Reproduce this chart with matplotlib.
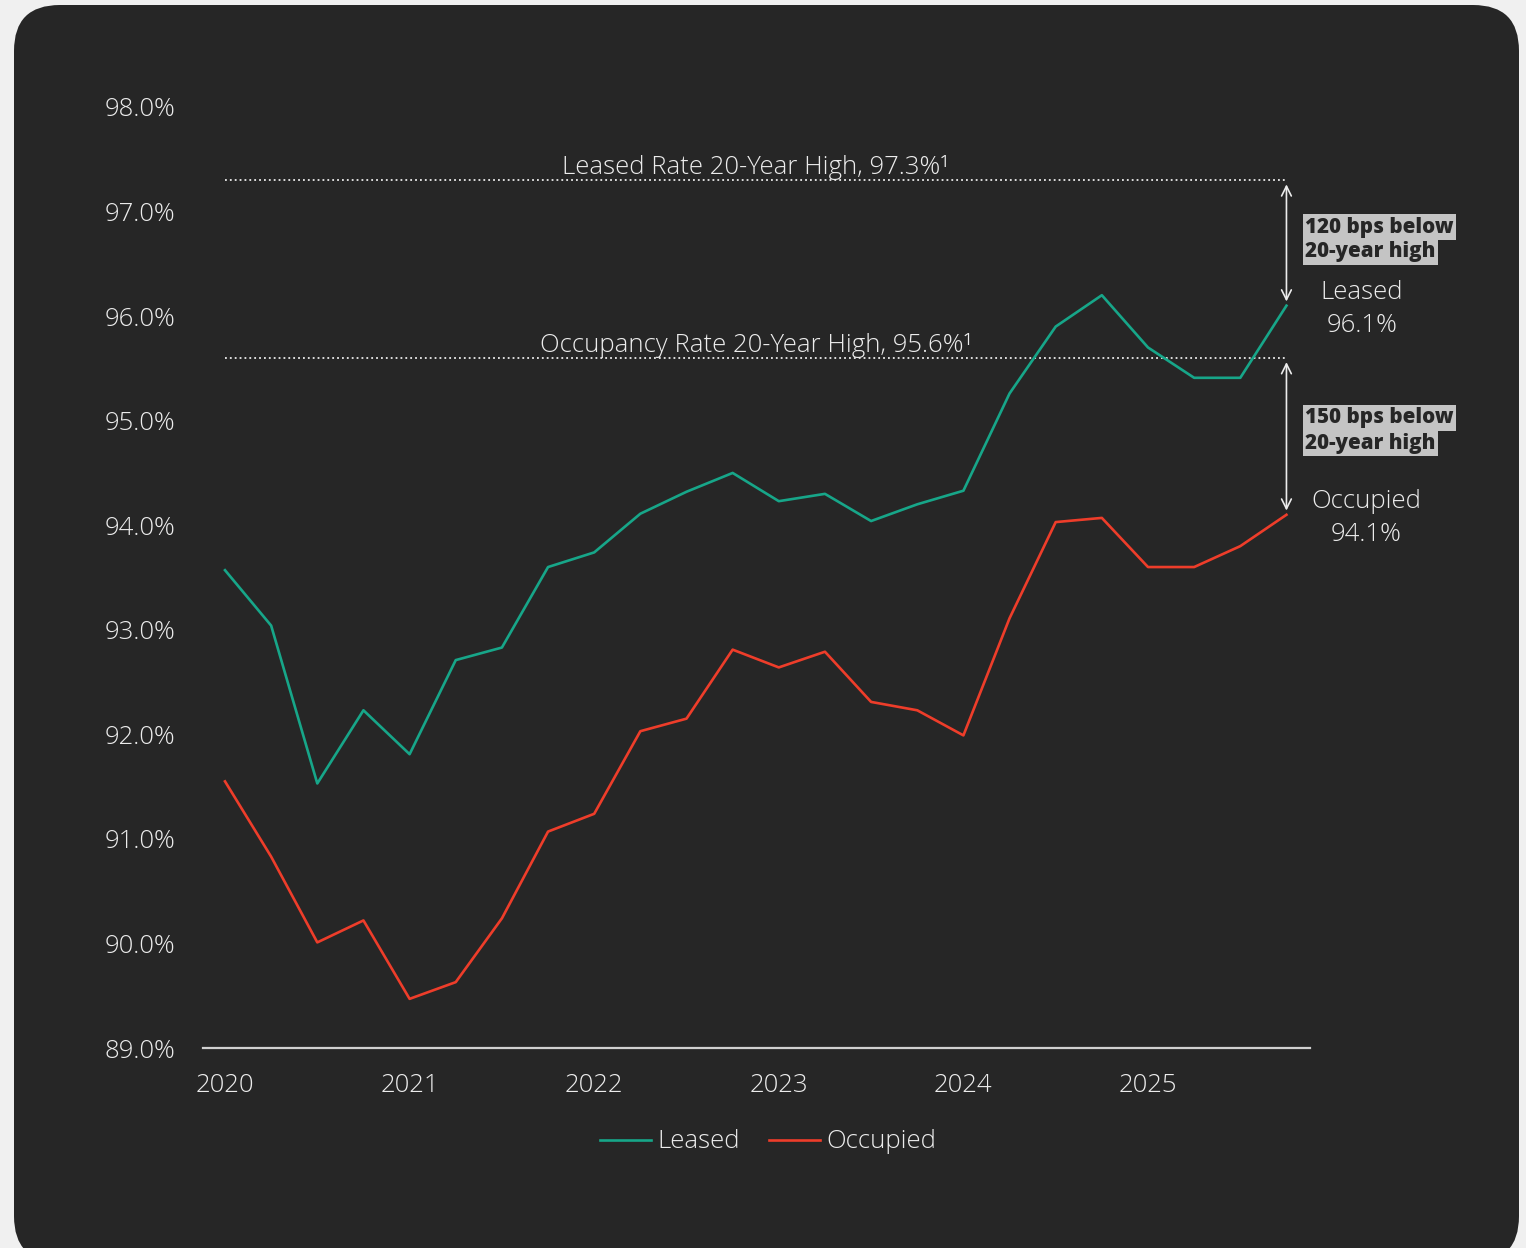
import matplotlib
matplotlib.use("Agg")
import matplotlib.pyplot as plt
from matplotlib.patches import FancyBboxPatch
from matplotlib.lines import Line2D

# Quarterly rates, 2020 Q1 through 2025 Q4
quarters = [2020 + 0.25 * i for i in range(24)]
leased = [93.57, 93.04, 91.53, 92.23, 91.81, 92.71, 92.83, 93.60, 93.74, 94.11,
          94.32, 94.50, 94.23, 94.30, 94.04, 94.20, 94.33, 95.26, 95.90, 96.20,
          95.70, 95.41, 95.41, 96.10]
occupied = [91.55, 90.83, 90.01, 90.22, 89.47, 89.63, 90.24, 91.07, 91.24, 92.03,
            92.15, 92.81, 92.64, 92.79, 92.31, 92.23, 91.99, 93.11, 94.03, 94.07,
            93.60, 93.60, 93.80, 94.10]
leased_high = 97.3
occupied_high = 95.6
year_ticks = [2020, 2021, 2022, 2023, 2024, 2025]
pct_ticks = [89, 90, 91, 92, 93, 94, 95, 96, 97, 98]
gap_labels = [("120 bps below", "20-year high"), ("150 bps below", "20-year high")]

TEAL = "#17a689"
RED = "#ee3d2a"
PANEL = "#262626"
TEXT = "#ececec"
FONT = ["Open Sans", "DejaVu Sans"]

plt.rcParams["font.family"] = FONT
plt.rcParams["font.weight"] = "light"

W, H = 1526, 1248
fig = plt.figure(figsize=(W / 100, H / 100), dpi=100, facecolor="#f0f0f0")

# rounded dark panel behind everything
panel = FancyBboxPatch((14 / W, (H - 1262) / H), (1519 - 14) / W, (1262 - 5) / H,
                       boxstyle="round,pad=0,rounding_size=0.03",
                       transform=fig.transFigure, facecolor=PANEL, edgecolor="none",
                       mutation_aspect=W / H, zorder=-10)
fig.patches.append(panel)

ax = fig.add_axes([203 / W, 1 - 1048 / H, (1310 - 203) / W, (1048 - 107) / H])
ax.set_facecolor("none")
ax.set_zorder(1)
x0 = 2020 - 22 / 184.6
x1 = 2020 + (1310 - 225) / 184.6
ax.set_xlim(x0, x1)
ax.set_ylim(89, 98)

ax.plot(quarters, leased, color=TEAL, lw=1.9, label="Leased", zorder=3)
ax.plot(quarters, occupied, color=RED, lw=1.9, label="Occupied", zorder=3)

# 20-year high reference lines
for val, txt in [(leased_high, f"Leased Rate 20-Year High, {leased_high:.1f}%¹"),
                 (occupied_high, f"Occupancy Rate 20-Year High, {occupied_high:.1f}%¹")]:
    ax.plot([quarters[0], quarters[-1]], [val, val], color=TEXT, lw=1.3,
            linestyle=(0, (1, 1.7)), zorder=2)
    ax.text((quarters[0] + quarters[-1]) / 2, val + 0.0, txt, ha="center", va="bottom",
            color=TEXT, fontsize=18.5)

# gap arrows from each high down to the latest value
xe = quarters[-1]
for top, bot in [(leased_high, leased[-1]), (occupied_high, occupied[-1])]:
    ax.annotate("", xy=(xe, bot + 0.04), xytext=(xe, top - 0.04),
                arrowprops=dict(arrowstyle="<->,head_length=0.7,head_width=0.35",
                                color=TEXT, lw=1.2, shrinkA=0, shrinkB=0))

# gap labels with highlighted background, one box per line
box = dict(boxstyle="square,pad=0.12", facecolor="#c4c4c4", edgecolor="none")
for (l1, l2), py in zip(gap_labels, [227, 418]):
    for s, dy in [(l1, 0), (l2, 25)]:
        fig.text(1305 / W, 1 - (py + dy) / H, s, ha="left", va="center", color=PANEL,
                 fontsize=14.8, fontweight="heavy", bbox=box)

# end-point labels
fig.text(1362 / W, 1 - 293 / H, "Leased", ha="center", va="center", color=TEXT, fontsize=18.5)
fig.text(1362 / W, 1 - 326 / H, f"{leased[-1]:.1f}%", ha="center", va="center", color=TEXT, fontsize=18.5)
fig.text(1366 / W, 1 - 502 / H, "Occupied", ha="center", va="center", color=TEXT, fontsize=18.5)
fig.text(1366 / W, 1 - 535 / H, f"{occupied[-1]:.1f}%", ha="center", va="center", color=TEXT, fontsize=18.5)

# axes styling
for s in ["top", "right", "left"]:
    ax.spines[s].set_visible(False)
ax.spines["bottom"].set_color("#d0d0d0")
ax.spines["bottom"].set_linewidth(1.6)
ax.set_xticks(year_ticks)
ax.set_xticklabels([str(y) for y in year_ticks])
ax.set_yticks(pct_ticks)
ax.set_yticklabels([f"{v:.1f}%" for v in pct_ticks])
ax.tick_params(axis="both", length=0, colors=TEXT, labelsize=18.5)
ax.tick_params(axis="y", pad=20)
ax.tick_params(axis="x", pad=18)

handles = [Line2D([], [], color=TEAL, lw=1.9), Line2D([], [], color=RED, lw=1.9)]
fig.legend(handles, ["Leased", "Occupied"], loc="center", ncol=2,
           bbox_to_anchor=(768 / W, 1 - 1142 / H), frameon=False,
           fontsize=18.5, labelcolor=TEXT, handlelength=2.0, handletextpad=0.23,
           columnspacing=1.15)

fig.savefig("out.png", dpi=100, facecolor=fig.get_facecolor())
